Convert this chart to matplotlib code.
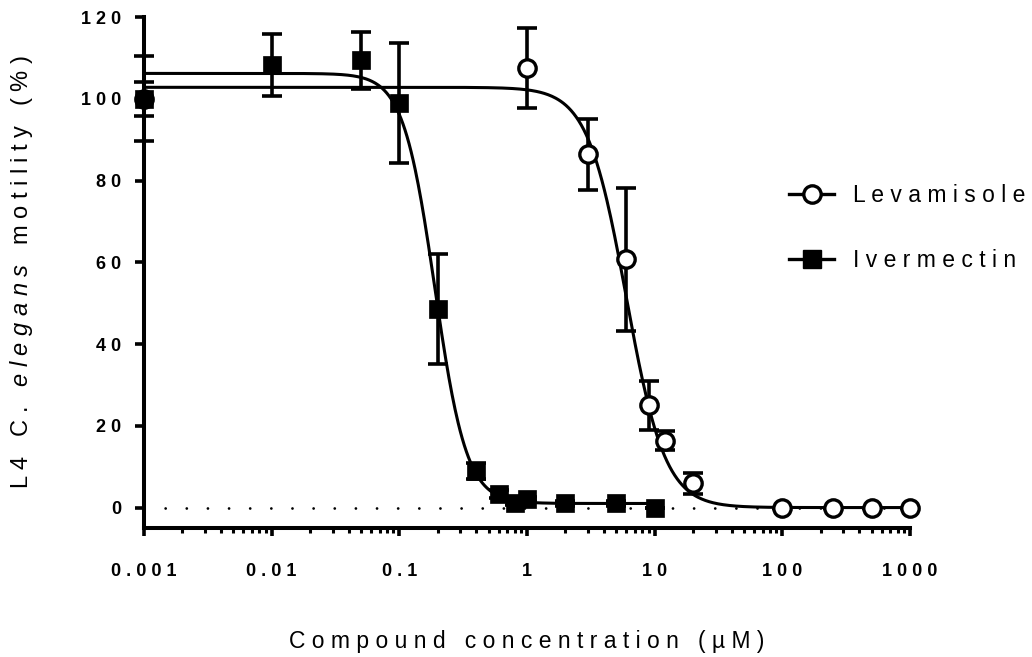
import numpy as np
import matplotlib.pyplot as plt
from matplotlib.ticker import LogLocator, FixedLocator, NullFormatter

plt.rcParams["font.family"] = ["Liberation Sans", "DejaVu Sans"]
plt.rcParams["mathtext.fontset"] = "custom"
plt.rcParams["mathtext.rm"] = "Liberation Sans"
plt.rcParams["mathtext.it"] = "Liberation Sans:italic"

# ── Data ─────────────────────────────────────────────────────────────────────
lev_conc = [0.001, 1, 3, 6, 9, 12, 20, 100, 250, 500, 1000]
lev_mean = [100, 107.5, 86.4, 60.7, 25, 16.4, 5.9, 0, 0, 0, 0]
lev_err  = [10.4, 9.8, 8.6, 17.4, 6, 2.4, 2.5, 0, 0, 0, 0]

ive_conc = [0.001, 0.01, 0.05, 0.1, 0.2, 0.4, 0.6, 0.8, 1, 2, 5, 10]
ive_mean = [100, 108.2, 109.4, 98.9, 48.5, 9, 3.4, 1.2, 2, 1, 1, 0]
ive_err  = [4.1, 7.6, 6.9, 14.7, 13.5, 2, 1, 0.5, 0.5, 0.5, 0.5, 0]

# 4-parameter logistic fits (top, bottom, IC50, Hill slope)
lev_fit = (102.8, 0.0, 6.0, 2.85)
ive_fit = (106.2, 1.0, 0.19, 3.5)

y_ticks = [0, 20, 40, 60, 80, 100, 120]
x_ticks = [0.001, 0.01, 0.1, 1, 10, 100, 1000]
x_tick_labels = ["0.001", "0.01", "0.1", "1", "10", "100", "1000"]


def spaced(s):
    # GraphPad-style wide letter spacing
    return " ".join(s)


def four_pl(x, top, bottom, ic50, hill):
    return bottom + (top - bottom) / (1 + (x / ic50) ** hill)


fig = plt.figure(figsize=(10.32, 6.57), dpi=100)
ax = fig.add_axes([144 / 1032, 1 - 528 / 657, (910 - 144) / 1032, (528 - 17) / 657])

ax.set_xscale("log")
ax.set_xlim(0.001, 1000)
ax.set_ylim(-5, 120)

# baseline
ax.axhline(0, color="black", lw=2.0, ls=(0, (0.01, 7.6)),
           dash_capstyle="round", zorder=1)

# fitted curves
xs = np.logspace(-3, 3, 600)
ax.plot(xs, four_pl(xs, *lev_fit), color="black", lw=2.2, zorder=2)
xs_i = np.logspace(-3, 1, 500)
ax.plot(xs_i, four_pl(xs_i, *ive_fit), color="black", lw=2.2, zorder=2)

# data with SD error bars
ax.errorbar(lev_conc, lev_mean, yerr=lev_err, fmt="none", ecolor="black",
            elinewidth=2.6, capsize=7.2, capthick=2.6, clip_on=False, zorder=3)
ax.plot(lev_conc, lev_mean, ls="none", marker="o", ms=12.5, mfc="white",
        mec="black", mew=2.4, clip_on=False, zorder=4)

ax.errorbar(ive_conc, ive_mean, yerr=ive_err, fmt="none", ecolor="black",
            elinewidth=2.6, capsize=7.2, capthick=2.6, clip_on=False, zorder=3)
ax.plot(ive_conc, ive_mean, ls="none", marker="s", ms=13, mfc="black",
        mec="black", mew=0.5, clip_on=False, zorder=5)

# axes styling
for side in ["top", "right"]:
    ax.spines[side].set_visible(False)
for side in ["left", "bottom"]:
    ax.spines[side].set_linewidth(2.9)

ax.yaxis.set_major_locator(FixedLocator(y_ticks))
ax.set_yticklabels([spaced(str(t)) for t in y_ticks], fontsize=13, fontweight="bold")
ax.xaxis.set_major_locator(FixedLocator(x_ticks))
ax.set_xticklabels([spaced(t) for t in x_tick_labels], fontsize=13, fontweight="bold")
ax.xaxis.set_minor_locator(LogLocator(base=10, subs=np.arange(2, 10), numticks=20))
ax.xaxis.set_minor_formatter(NullFormatter())

ax.tick_params(axis="y", which="major", direction="out", length=6.5, width=2.6, pad=10)
ax.tick_params(axis="x", which="major", direction="out", length=6, width=2.6, pad=19)
ax.tick_params(axis="x", which="minor", direction="out", length=3.5, width=2.2)

ax.set_xlabel(spaced("Compound concentration (µM)"), fontsize=16.5, labelpad=36)
italic = " ".join(r"$\mathit{%s}$" % c for c in "elegans")
ax.set_ylabel("L 4   C .   " + italic + "   m o t i l i t y   ( % )",
              fontsize=17, labelpad=33)

# legend
lev_h, = ax.plot([], [], color="black", lw=2.4, marker="o", ms=12.5,
                 mfc="white", mec="black", mew=2.4)
ive_h, = ax.plot([], [], color="black", lw=2.4, marker="s", ms=13,
                 mfc="black", mec="black")
leg = fig.legend([lev_h, ive_h], [spaced("Levamisole"), spaced("Ivermectin")],
                 loc="center left", bbox_to_anchor=(780 / 1032, 1 - 228 / 657),
                 frameon=False, fontsize=16.5, handlelength=1.95, handletextpad=0.85,
                 labelspacing=1.85, borderaxespad=0)

fig.savefig("out.png", dpi=100)
